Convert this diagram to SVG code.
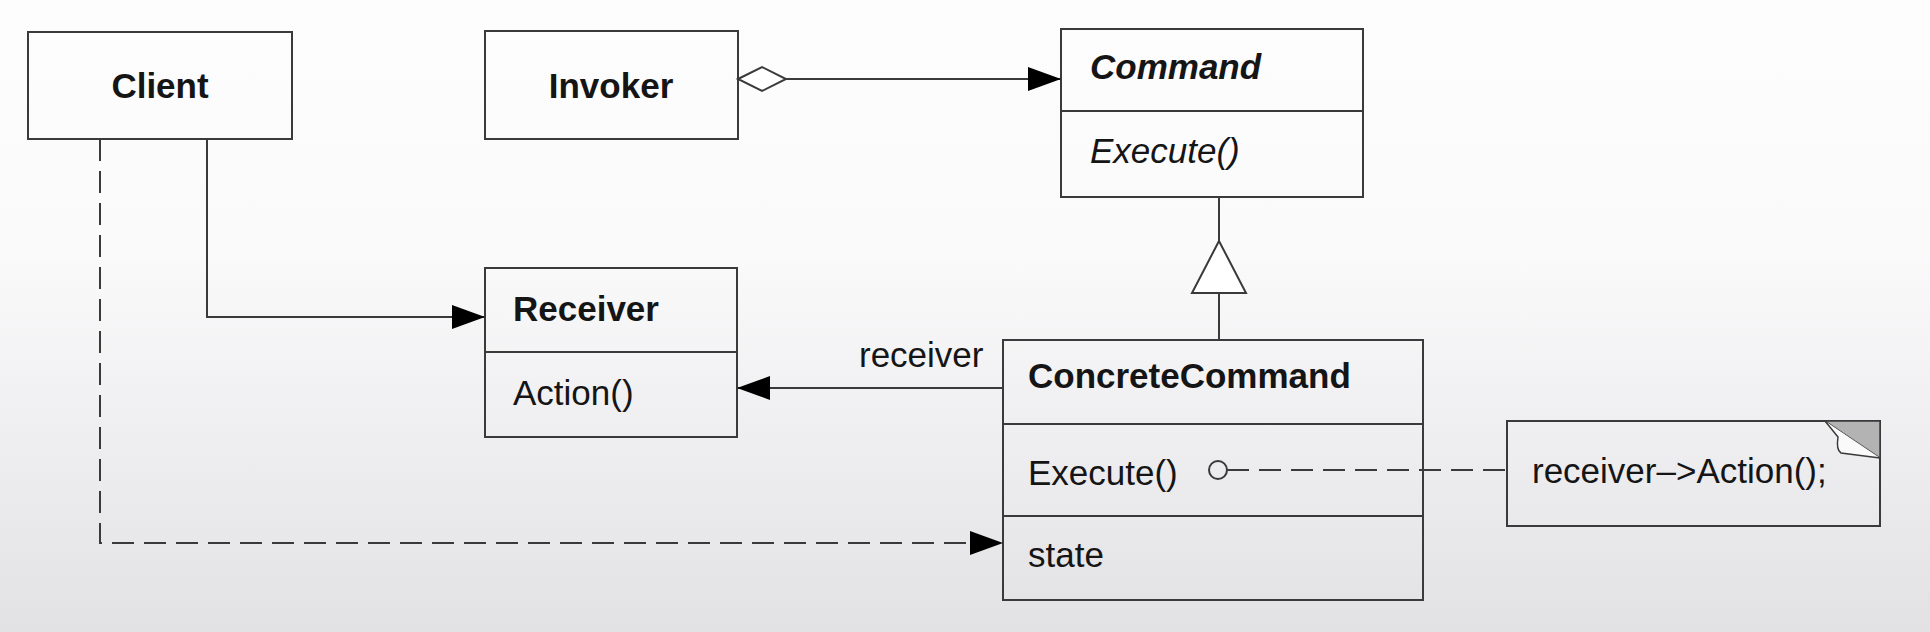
<svg xmlns="http://www.w3.org/2000/svg" width="1930" height="632" viewBox="0 0 1930 632">
<defs>
<linearGradient id="bg" x1="0" y1="0" x2="0" y2="1">
<stop offset="0" stop-color="#fdfdfd"/>
<stop offset="0.4" stop-color="#fafafb"/>
<stop offset="1" stop-color="#e2e1e4"/>
</linearGradient>
<marker id="arrow" markerUnits="userSpaceOnUse" markerWidth="34" markerHeight="26" refX="33" refY="13" orient="auto">
<path d="M0,1 L33,13 L0,25 Z" fill="#000"/>
</marker>
<style>
.box{fill:none;stroke:#3a3a3a;stroke-width:2}
.ln{fill:none;stroke:#3a3a3a;stroke-width:2}
.dash{fill:none;stroke:#3a3a3a;stroke-width:2;stroke-dasharray:22 10}
.t{font-family:"Liberation Sans",Arial,sans-serif;font-size:35px;fill:#151515}
.b{font-weight:bold}
.i{font-style:italic}
</style>
</defs>
<rect x="0" y="0" width="1930" height="632" fill="url(#bg)"/>

<g id="client">
<rect class="box" x="28" y="32" width="264" height="107"/>
<text class="t b" x="160" y="98" text-anchor="middle">Client</text>
</g>

<g id="invoker">
<rect class="box" x="485" y="31" width="253" height="108"/>
<text class="t b" x="611" y="98" text-anchor="middle">Invoker</text>
</g>

<g id="command">
<rect class="box" x="1061" y="29" width="302" height="168"/>
<line class="ln" x1="1061" y1="111" x2="1363" y2="111"/>
<text class="t b i" x="1090" y="79">Command</text>
<text class="t i" x="1090" y="163">Execute()</text>
</g>

<g id="receiver">
<rect class="box" x="485" y="268" width="252" height="169"/>
<line class="ln" x1="485" y1="352" x2="737" y2="352"/>
<text class="t b" x="513" y="321">Receiver</text>
<text class="t" x="513" y="405">Action()</text>
</g>

<g id="concretecommand">
<rect class="box" x="1003" y="340" width="420" height="260"/>
<line class="ln" x1="1003" y1="424" x2="1423" y2="424"/>
<line class="ln" x1="1003" y1="516" x2="1423" y2="516"/>
<text class="t b" x="1028" y="388">ConcreteCommand</text>
<text class="t" x="1028" y="485">Execute()</text>
<text class="t" x="1028" y="567">state</text>
</g>

<g id="note">
<path class="box" d="M1507,421 H1880 V526 H1507 Z"/>
<path d="M1825,421 L1880,421 L1880,458 Z" fill="#b3b3b3" stroke="#3a3a3a" stroke-width="1.5"/>
<path d="M1825,421 L1838,437 Q1836,450 1841,453 L1880,458" fill="#fafafa" stroke="#3a3a3a" stroke-width="1.5"/>
<text class="t" x="1532" y="483">receiver–&gt;Action();</text>
</g>

<g id="connectors">
<path d="M738,79 L762,67 L786,79 L762,91 Z" fill="#fff" stroke="#3a3a3a" stroke-width="2"/>
<line class="ln" x1="786" y1="79" x2="1061" y2="79" marker-end="url(#arrow)"/>
<line class="ln" x1="1219" y1="197" x2="1219" y2="241"/>
<path d="M1219,241 L1246,293 L1192,293 Z" fill="#fff" stroke="#3a3a3a" stroke-width="2"/>
<line class="ln" x1="1219" y1="293" x2="1219" y2="340"/>
<polyline class="ln" points="207,139 207,317 485,317" marker-end="url(#arrow)"/>
<line class="ln" x1="1003" y1="388" x2="737" y2="388" marker-end="url(#arrow)"/>
<text class="t" x="859" y="367">receiver</text>
<polyline class="dash" points="100,139 100,543 1003,543" marker-end="url(#arrow)"/>
<circle cx="1218" cy="470" r="9" fill="none" stroke="#3a3a3a" stroke-width="2"/>
<line class="dash" x1="1227" y1="470" x2="1507" y2="470"/>
</g>
</svg>
